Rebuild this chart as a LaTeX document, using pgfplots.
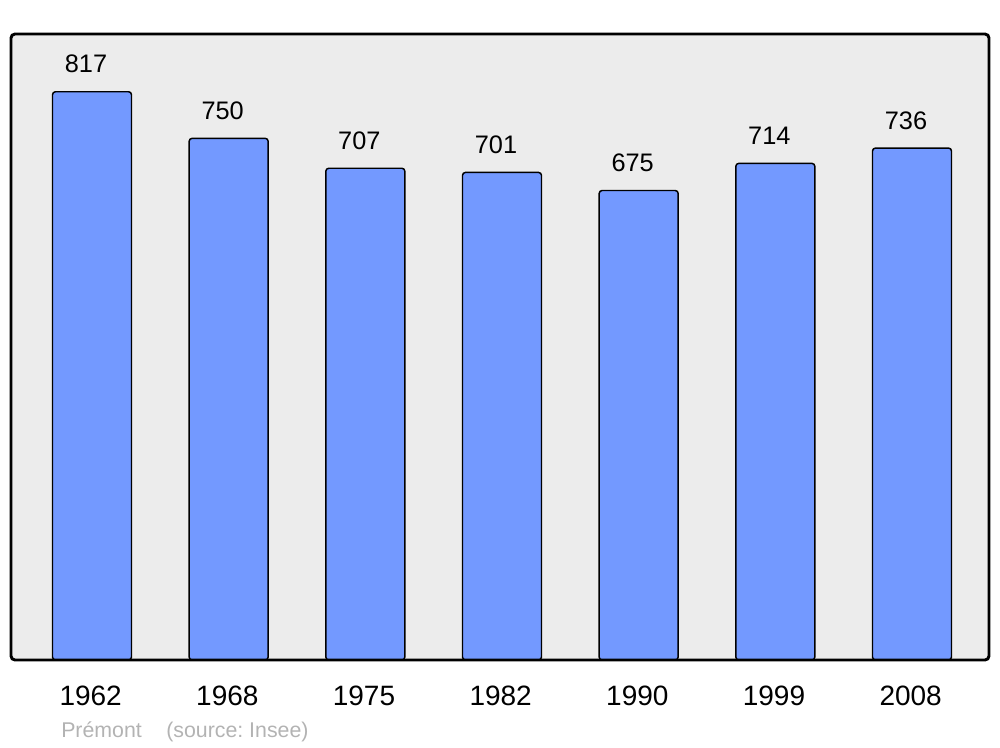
\documentclass[border=0pt]{standalone}
\usepackage{fontspec}
\setmainfont{Liberation Sans}
\usepackage{pgfplots}
\pgfplotsset{compat=1.18}
\definecolor{barfill}{RGB}{115,153,255}
\definecolor{bgfill}{RGB}{236,236,236}
\definecolor{footgray}{RGB}{179,179,179}
\frenchspacing
\begin{document}
\begin{tikzpicture}
\path[use as bounding box] (0,0) rectangle (750pt,560.25pt);
\begin{axis}[
  at={(8.25pt,65.25pt)}, anchor=south west,
  scale only axis, width=733.5pt, height=469.5pt,
  xmin=-0.5927, xmax=6.5634, ymin=0, ymax=900,
  axis line style={draw=none},
  axis background/.style={fill=bgfill, rounded corners=3pt},
  xtick={0,1,2,3,4,5,6},
  xticklabels={1962,1968,1975,1982,1990,1999,2008},
  ytick=\empty,
  major tick length=0pt,
  xticklabel style={font=\fontsize{21pt}{24pt}\selectfont, anchor=base, yshift=-33.75pt, xshift=-1pt, inner sep=0pt},
  /pgf/number format/assume math mode=true,
  /pgf/number format/1000 sep={},
  clip=false,
]
\addplot[ybar, bar width=59.25pt, fill=barfill, draw=black, line width=1.1pt, rounded corners=2.2pt,
  nodes near coords,
  nodes near coords style={font=\fontsize{19pt}{22pt}\selectfont, anchor=base, yshift=14.25pt, xshift=-4.5pt, inner sep=0pt, text=black}]
  coordinates {(0,817) (1,750) (2,707) (3,701) (4,675) (5,714) (6,736)};
\draw[line width=2.2pt, rounded corners=3pt] (rel axis cs:0,0) rectangle (rel axis cs:1,1);
\end{axis}
\node[anchor=base west, inner sep=0pt, text=footgray, font=\fontsize{16pt}{19pt}\selectfont] at (45.75pt,7.5pt) {Prémont};
\node[anchor=base west, inner sep=0pt, text=footgray, font=\fontsize{16pt}{19pt}\selectfont] at (124.5pt,7.5pt) {(source: Insee)};
\end{tikzpicture}
\end{document}
